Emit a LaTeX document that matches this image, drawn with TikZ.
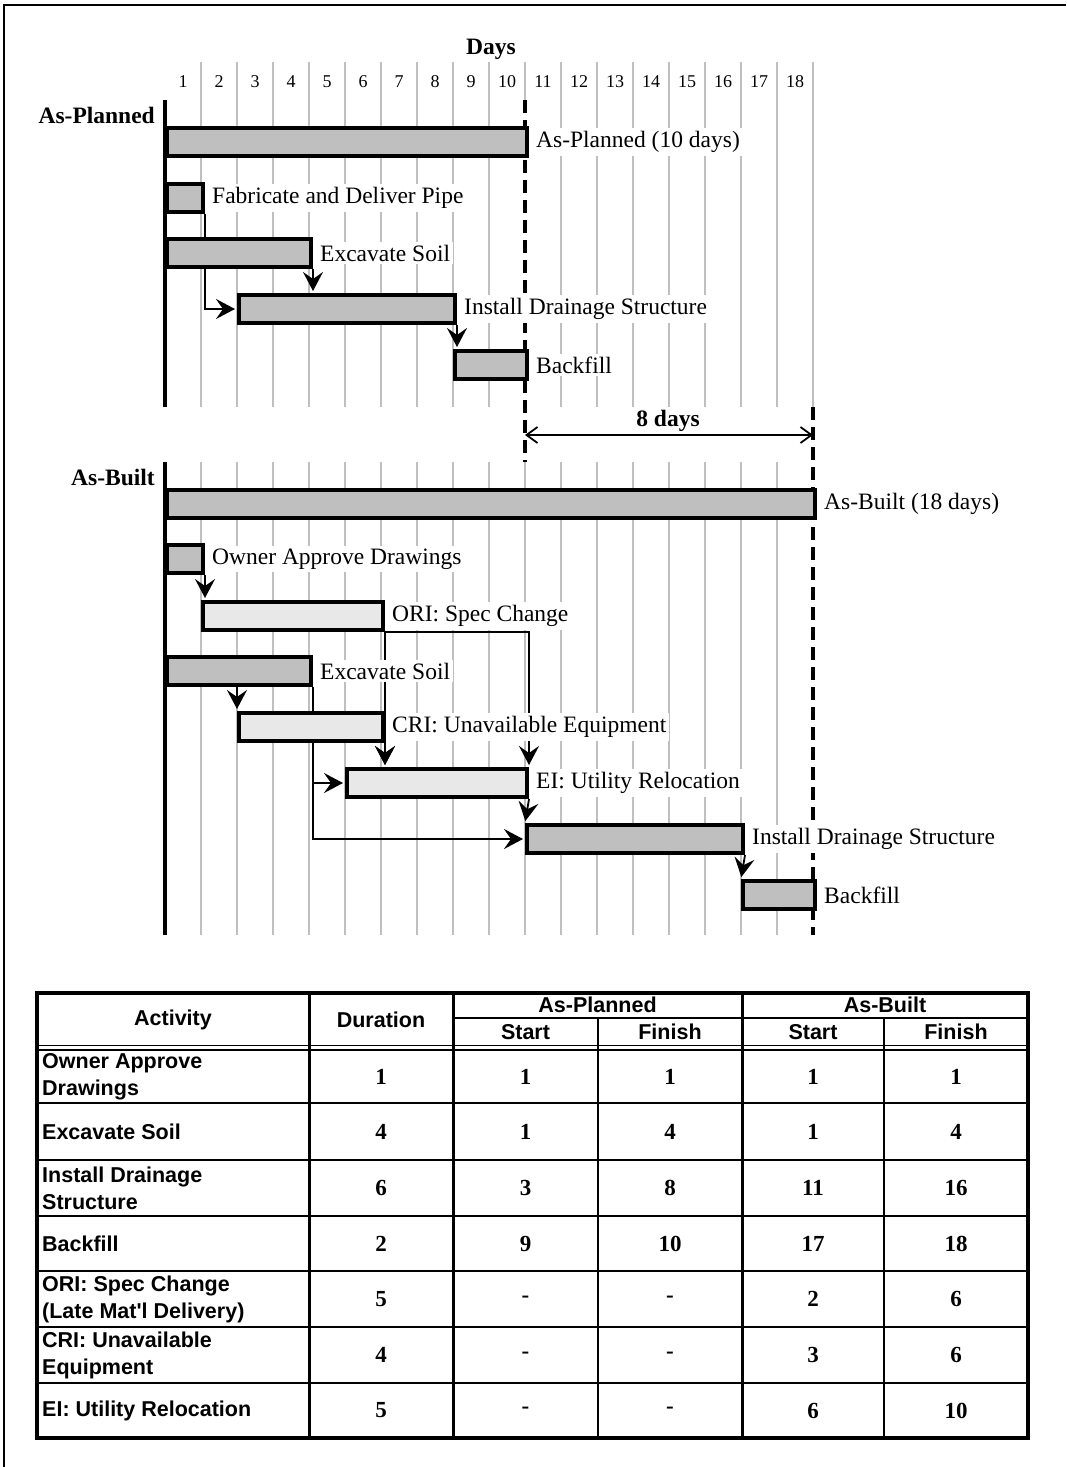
\documentclass[tikz,border=0pt]{standalone}
\usepackage{fontspec}
\setmainfont{Liberation Serif}
\newfontfamily\tabsans{Liberation Sans}
\usetikzlibrary{arrows.meta}

\newcommand\chartfont{\fontsize{23.5}{28}\selectfont}
\newcommand\dayfont{\fontsize{18}{21}\selectfont}
\newcommand\headfont{\tabsans\bfseries\fontsize{21.5}{27}\selectfont}
\newcommand\numfont{\bfseries\fontsize{23}{27}\selectfont}

\pgfdeclarelayer{back}
\pgfsetlayers{back,main}

% one table row: id, y, activity, duration, planned start/finish, built start/finish
\newcommand\tabrow[8]{%
  \node[acttext] (act#1) at (39,#2) {#3};
  \node[numtext] (dur#1) at (381,#2) {#4};
  \node[numtext] (pst#1) at (525.5,#2) {#5};
  \node[numtext] (pfi#1) at (670,#2) {#6};
  \node[numtext] (bst#1) at (813,#2) {#7};
  \node[numtext] (bfi#1) at (956,#2) {#8};
}

\begin{document}
\begin{tikzpicture}[x=1pt,y=-1pt,
  gridline/.style={draw=black!25, line width=2pt},
  milestone/.style={line width=4pt, dash pattern=on 13pt off 7pt},
  axisline/.style={line width=4pt},
  taskbar/.style={draw, line width=4pt, fill=black!25, minimum height=28pt,
                  inner sep=0pt, anchor=west},
  delaybar/.style={taskbar, fill=black!9},
  lbl/.style={fill=white, inner sep=3pt, anchor=west, font=\chartfont},
  dep/.style={line width=1.8pt, -{Stealth[length=19pt,width=20pt,inset=7pt]}, shorten >=2pt},
  span/.style={line width=1.8pt, {Straight Barb[length=11pt,width=16pt]}-{Straight Barb[length=11pt,width=16pt]}},
  acttext/.style={anchor=west, align=left, inner sep=3pt, font=\headfont},
  numtext/.style={inner sep=2pt, font=\numfont},
  headtext/.style={inner sep=2pt, font=\headfont},
]
\useasboundingbox (0,0) rectangle (1066,1467);

% frame
\draw[line width=2.5pt] (4,1467) -- (4,5) -- (1066,5);

% day scale
\node[font=\chartfont\bfseries] (days) at (491,49) {Days};
\foreach \k in {1,...,18}
  \node[font=\dayfont, inner sep=1pt] (day\k) at ({165+36*(\k-0.5)},82) {\k};

\node[font=\chartfont\bfseries, anchor=east, inner sep=2pt] (planhead) at (157,115) {As-Planned};
\node[font=\chartfont\bfseries, anchor=east, inner sep=2pt] (builthead) at (157,477) {As-Built};

% ---------- As-Planned bars ----------
\node[taskbar, minimum width=360pt] (pall)  at (165,142) {};
\node[taskbar, minimum width=36pt]  (pfab)  at (165,198) {};
\node[taskbar, minimum width=144pt] (pexc)  at (165,253) {};
\node[taskbar, minimum width=216pt] (pinst) at (237,309) {};
\node[taskbar, minimum width=72pt]  (pback) at (453,365) {};

% ---------- As-Built bars ----------
\node[taskbar, minimum width=648pt]  (ball)  at (165,503.5) {};
\node[taskbar, minimum width=36pt]   (bown)  at (165,559) {};
\node[delaybar, minimum width=180pt] (bori)  at (201,616) {};
\node[taskbar, minimum width=144pt]  (bexc)  at (165,671) {};
\node[delaybar, minimum width=144pt] (bcri)  at (237,727) {};
\node[delaybar, minimum width=180pt] (bei)   at (345,783) {};
\node[taskbar, minimum width=216pt]  (binst) at (525,839) {};
\node[taskbar, minimum width=72pt]   (bback) at (741,895) {};

\begin{pgfonlayer}{back}
  % day grid
  \foreach \k in {1,...,9,11,12,...,18}
    \draw[gridline] ({165+36*\k},62) -- ({165+36*\k},407);
  \draw[gridline] (525,62) -- (525,100);
  \foreach \k in {1,...,17}
    \draw[gridline] ({165+36*\k},462) -- ({165+36*\k},935);
  % time axes and completion lines
  \draw[axisline] (165,100) -- (165,407);
  \draw[axisline] (165,462) -- (165,935);
  \draw[milestone] (525,100) -- (525,462);
  \draw[milestone] (813,407) -- (813,935);
  % As-Planned logic
  \draw[dep] (pfab.south east) |- (pinst.west);
  \draw[dep] (pexc.south east) -- (pexc.south east |- pinst.north);
  \draw[dep] (pinst.south east) -- (pinst.south east |- pback.north);
  % As-Built logic
  \draw[dep] (bown.south east) -- (bown.south east |- bori.north);
  \draw[dep] (bori.south east) -- (bori.south east |- bei.north);
  \draw[dep] (bcri.south east) -- (bcri.south east |- bei.north);
  \draw[dep] (bori.south east) -| (bei.north east);
  \draw[dep] (bcri.north west |- bexc.south) -- (bcri.north west);
  \draw[dep] (bexc.south east) |- (bei.west);
  \draw[dep] (bexc.south east) |- (binst.west);
  \draw[dep] (bei.south east) -- (binst.north west);
  \draw[dep] (binst.south east) -- (bback.north west);
\end{pgfonlayer}

% bar labels
\node[lbl] (lpall)  at ([xshift=4pt]pall.east)  {As-Planned (10 days)};
\node[lbl] (lpfab)  at ([xshift=4pt]pfab.east)  {Fabricate and Deliver Pipe};
\node[lbl] (lpexc)  at ([xshift=4pt]pexc.east)  {Excavate Soil};
\node[lbl] (lpinst) at ([xshift=4pt]pinst.east) {Install Drainage Structure};
\node[lbl] (lpback) at ([xshift=4pt]pback.east) {Backfill};

\node[lbl] (lball)  at ([xshift=4pt]ball.east)  {As-Built (18 days)};
\node[lbl] (lbown)  at ([xshift=4pt]bown.east)  {Owner Approve Drawings};
\node[lbl] (lbori)  at ([xshift=4pt]bori.east)  {ORI: Spec Change};
\node[lbl] (lbexc)  at ([xshift=4pt]bexc.east)  {Excavate Soil};
\node[lbl] (lbcri)  at ([xshift=4pt]bcri.east)  {CRI: Unavailable Equipment};
\node[lbl] (lbei)   at ([xshift=4pt]bei.east)   {EI: Utility Relocation};
\node[lbl] (lbinst) at ([xshift=4pt]binst.east) {Install Drainage Structure};
\node[lbl] (lbback) at ([xshift=4pt]bback.east) {Backfill};

% delay span
\coordinate (spanL) at (525,435);
\coordinate (spanR) at (813,435);
\draw[span] (spanL) -- (spanR);
\node[font=\chartfont\bfseries, inner sep=1pt] (spanlbl) at (668,421) {8 days};

% ---------- table ----------
\draw[line width=3pt] (309,993) -- (309,1438)
                      (453,993) -- (453,1438)
                      (742,993) -- (742,1438);
\draw[line width=2.5pt] (598,1018) -- (598,1438)
                        (884,1018) -- (884,1438);
\draw[line width=2pt] (453,1018) -- (1028,1018);
\draw[line width=1.8pt] (37,1045.5) -- (1028,1045.5)
                        (37,1050) -- (1028,1050);
\foreach \r in {1103,1160,1216,1271,1327,1383}
  \draw[line width=2pt] (37,\r) -- (1028,\r);
\draw[line width=4pt] (37,993) rectangle (1028,1438);

\node[headtext] (hact)  at (173,1020) {Activity};
\node[headtext] (hdur)  at (381,1020) {Duration};
\node[headtext] (hplan) at (597.5,1005) {As-Planned};
\node[headtext] (hbuilt) at (885,1005) {As-Built};
\node[headtext] (hps) at (525.5,1032) {Start};
\node[headtext] (hpf) at (670,1032) {Finish};
\node[headtext] (hbs) at (813,1032) {Start};
\node[headtext] (hbf) at (956,1032) {Finish};

\tabrow{1}{1077}{Owner Approve\\Drawings}{1}{1}{1}{1}{1}
\tabrow{2}{1132}{Excavate Soil}{4}{1}{4}{1}{4}
\tabrow{3}{1188}{Install Drainage\\Structure}{6}{3}{8}{11}{16}
\tabrow{4}{1243.5}{Backfill}{2}{9}{10}{17}{18}
\tabrow{5}{1299}{ORI: Spec Change\\(Late Mat'l Delivery)}{5}{-}{-}{2}{6}
\tabrow{6}{1355}{CRI: Unavailable\\Equipment}{4}{-}{-}{3}{6}
\tabrow{7}{1410.5}{EI: Utility Relocation}{5}{-}{-}{6}{10}

\end{tikzpicture}
\end{document}
